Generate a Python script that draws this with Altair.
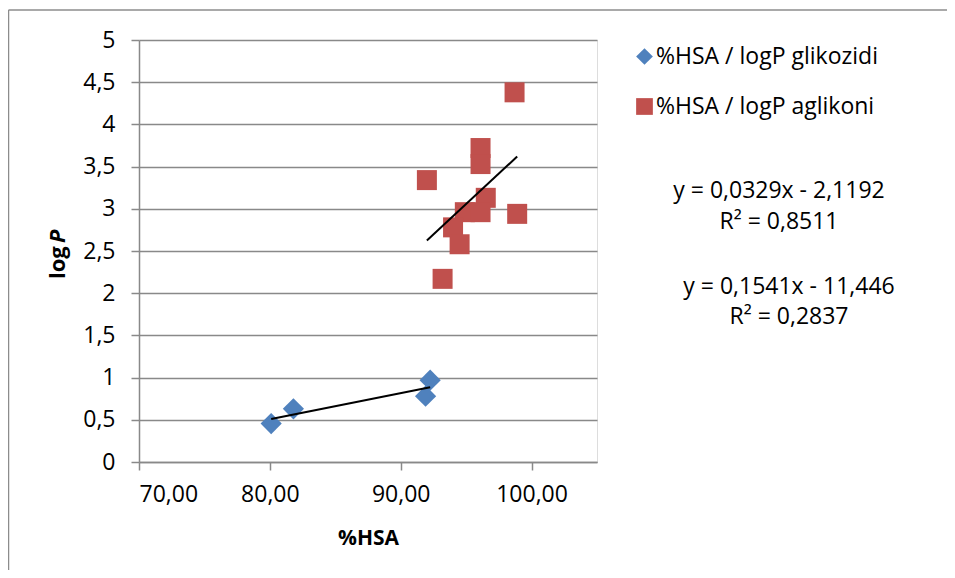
import altair as alt
import pandas as pd

# ---- data ----
glik_x = [80.1, 81.8, 92.25, 91.9]
glik_y = [0.455, 0.63, 0.97, 0.78]

aglik_x = [98.7, 96.1, 96.1, 92.0, 96.5, 94.9, 96.1, 98.9, 94.0, 94.5, 93.2]
aglik_y = [4.38, 3.72, 3.53, 3.34, 3.13, 2.96, 2.96, 2.94, 2.78, 2.58, 2.17]

series_names = ["%HSA / logP glikozidi", "%HSA / logP aglikoni"]
series_colors = ["#4F81BD", "#C0504D"]
series_shapes = ["diamond", "square"]

eq_lines = ["y = 0,0329x - 2,1192", "R² = 0,8511", "y = 0,1541x - 11,446", "R² = 0,2837"]
eq_x = [640, 640, 650, 650]
eq_y = [151, 182, 247, 277]

x_ticks = [70, 80, 90, 100]
y_ticks = [0, 0.5, 1, 1.5, 2, 2.5, 3, 3.5, 4, 4.5, 5]

FONT = "Open Sans"
GRID = "#898989"
FS = 23

df = pd.concat([
    pd.DataFrame({"x": glik_x, "y": glik_y, "series": series_names[0]}),
    pd.DataFrame({"x": aglik_x, "y": aglik_y, "series": series_names[1]}),
], ignore_index=True)

x_enc = alt.X("x:Q", scale=alt.Scale(domain=[70, 105], nice=False, zero=False),
              axis=alt.Axis(values=x_ticks, grid=False, title="%HSA",
                            labelExpr="replace(format(datum.value, '.2f'), '.', ',')",
                            labelFont=FONT, labelFontSize=FS, labelColor="#000",
                            labelPadding=13, tickSize=8, tickColor=GRID, domainColor=GRID,
                            domainWidth=1.5, tickWidth=1.5,
                            titleFont=FONT, titleFontSize=21, titleFontWeight="bold",
                            titleColor="#000", titleX=229, titleY=82,
                            titleBaseline="alphabetic", titleAlign="center"))
y_enc = alt.Y("y:Q", scale=alt.Scale(domain=[0, 5], nice=False),
              axis=alt.Axis(values=y_ticks, grid=True, gridColor=GRID, gridWidth=1.5,
                            title=None,
                            labelExpr="replace(toString(datum.value), '.', ',')",
                            labelFont=FONT, labelFontSize=FS, labelColor="#000",
                            labelPadding=16, tickSize=8, tickColor=GRID, domainColor=GRID,
                            domainWidth=1.5, tickWidth=1.5))

legend = alt.Legend(title=None, orient="none", legendX=494, legendY=5,
                    labelFont=FONT, labelFontSize=FS, labelColor="#000", labelLimit=0,
                    symbolSize=280, symbolStrokeWidth=0, rowPadding=26,
                    labelOffset=0, symbolOpacity=1)

color_enc = alt.Color("series:N", scale=alt.Scale(domain=series_names, range=series_colors),
                      legend=legend)
shape_enc = alt.Shape("series:N", scale=alt.Scale(domain=series_names, range=series_shapes),
                      legend=legend)

base = alt.Chart(df)

points = base.transform_calculate(
    sz="datum.series == '%HSA / logP aglikoni' ? 400 : 450"
).mark_point(filled=True, opacity=1).encode(
    x=x_enc, y=y_enc, color=color_enc, shape=shape_enc,
    size=alt.Size("sz:Q", scale=None, legend=None),
)

trend = base.transform_regression("x", "y", groupby=["series"]).mark_line(
    color="black", strokeWidth=2
).encode(x="x:Q", y="y:Q", detail="series:N")

eq_df = pd.DataFrame({"t": eq_lines, "px": eq_x, "py": eq_y})
eqs = alt.Chart(eq_df).mark_text(font=FONT, fontSize=FS, color="#000",
                                 align="center", baseline="middle").encode(
    text="t:N",
    x=alt.X("px:Q", scale=None),
    y=alt.Y("py:Q", scale=None),
)

ytitle_log = alt.Chart(pd.DataFrame({"t": ["log"]})).mark_text(
    font=FONT, fontSize=22, fontWeight="bold", color="#000", angle=270,
    align="left", baseline="middle"
).encode(text="t:N", x=alt.value(-81), y=alt.value(239))
ytitle_p = alt.Chart(pd.DataFrame({"t": ["P"]})).mark_text(
    font=FONT, fontSize=22, fontWeight="bold", fontStyle="italic", color="#000", angle=270,
    align="left", baseline="middle"
).encode(text="t:N", x=alt.value(-81), y=alt.value(203))

border_top = alt.Chart(pd.DataFrame({"a": [0]})).mark_rule(color="#8c8c8c", strokeWidth=1.5).encode(
    x=alt.value(-130.5), x2=alt.value(808), y=alt.value(-30))
border_left = alt.Chart(pd.DataFrame({"a": [0]})).mark_rule(color="#8c8c8c", strokeWidth=1.5).encode(
    x=alt.value(-130.5), y=alt.value(-30), y2=alt.value(530))

chart = alt.layer(border_top, border_left, points, trend, eqs, ytitle_log, ytitle_p).properties(
    width=458, height=422,
    padding={"left": 131, "top": 32, "right": 350, "bottom": 108},
    autosize=alt.AutoSizeParams(type="none"),
).configure_view(stroke=None).configure(background="white")

chart.save("out.html", embed_options={"renderer": "svg", "actions": False})
